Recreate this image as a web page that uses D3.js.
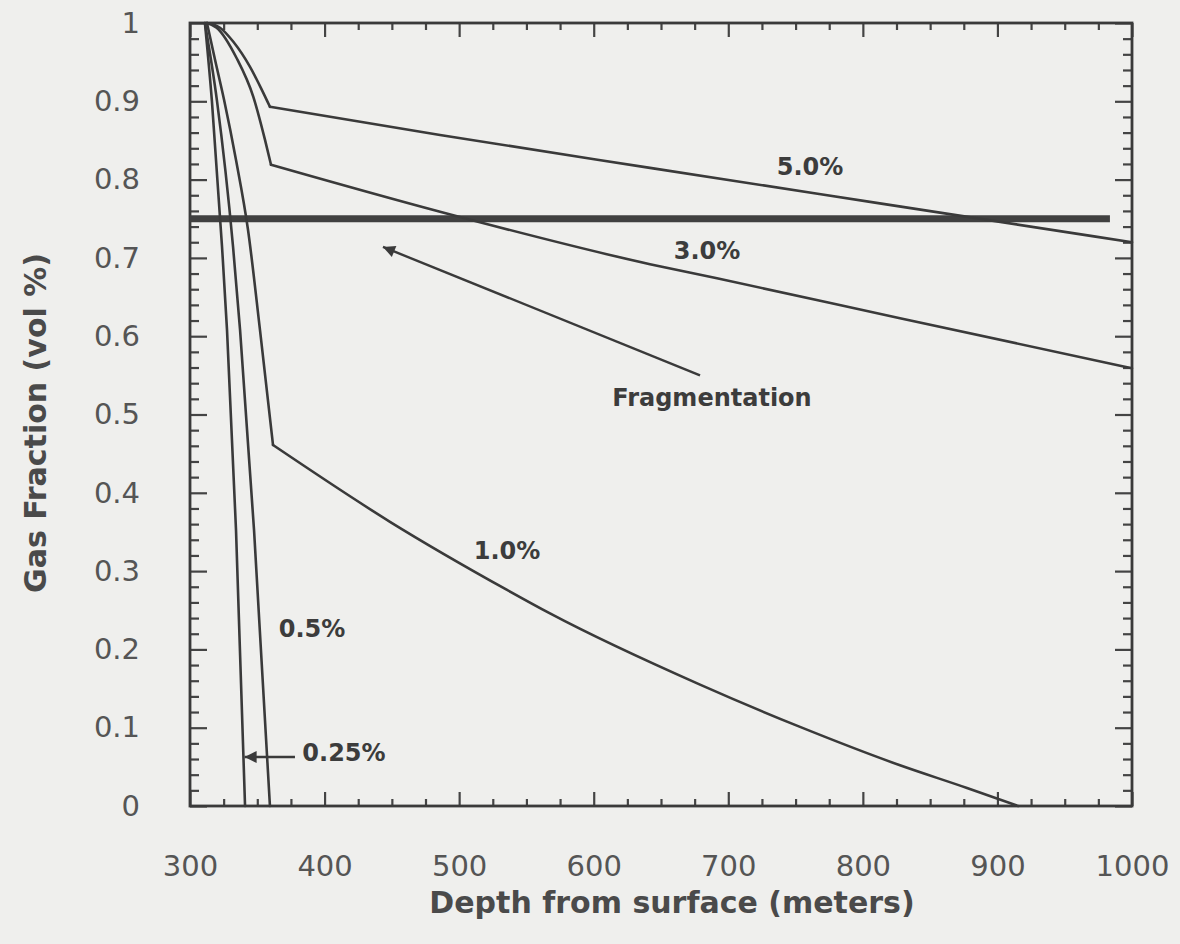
<!DOCTYPE html>
<html>
<head>
<meta charset="utf-8">
<script src="https://cdn.jsdelivr.net/npm/d3@7"></script>
<style>
  html, body { margin: 0; padding: 0; background: #efefed; }
  svg { display: block; }
</style>
</head>
<body>
<svg id="chart" width="1180" height="944"></svg>
<script>
// ---- data ----
const xMajorTicks = [300, 400, 500, 600, 700, 800, 900, 1000];
const xTickLabels = ["300", "400", "500", "600", "700", "800", "900", "1000"];
const yMajorTicks = [0, 0.1, 0.2, 0.3, 0.4, 0.5, 0.6, 0.7, 0.8, 0.9, 1];
const yTickLabels = ["0", "0.1", "0.2", "0.3", "0.4", "0.5", "0.6", "0.7", "0.8", "0.9", "1"];
const xMinorTicks = [325,350,375,425,450,475,525,550,575,625,650,675,725,750,775,825,850,875,925,950,975];
const yMinorTicks = [0.02,0.04,0.06,0.08,0.12,0.14,0.16,0.18,0.22,0.24,0.26,0.28,0.32,0.34,0.36,0.38,
                     0.42,0.44,0.46,0.48,0.52,0.54,0.56,0.58,0.62,0.64,0.66,0.68,0.72,0.74,0.76,0.78,
                     0.82,0.84,0.86,0.88,0.92,0.94,0.96,0.98];

// series: [depth (m), gas fraction]
const s025 = [[311.1,1.0],[316.3,0.900],[323.8,0.714],[327.5,0.608],[334.2,0.352],[340.9,0]];
const s05  = [[311.1,1.0],[320.1,0.900],[332.0,0.714],[337.2,0.608],[347.6,0.352],[359.4,0]];
const s10Upper = [[312.6,1.0],[318.6,0.953],[325.3,0.902],[334.2,0.825],[343.1,0.736],[352.0,0.608],[361.7,0.461]];
const s10Lower = [[361.7,0.461],[448.6,0.363],[535.6,0.276],[567.5,0.246],[679.0,0.155],[753.3,0.101],[827.6,0.052],[877.4,0.023],[915.3,0]];
const s30Upper = [[312.6,1.0],[319.8,0.994],[334.7,0.955],[347.0,0.906],[355.7,0.851],[360.2,0.819]];
const s30Lower = [[360.2,0.819],[485.8,0.759],[641.8,0.692],[691.6,0.674],[827.6,0.623],[1000,0.559]];
const s50Upper = [[312.6,1.0],[322.3,0.994],[332.2,0.976],[344.6,0.944],[353.3,0.915],[359.4,0.893]];
const s50Lower = [[359.4,0.893],[485.8,0.857],[641.8,0.815],[815.0,0.769],[1000,0.720]];

const fragLevel = 0.75;
const fragLineEnd = 983.6;

const seriesLabels = [
  {text: "5.0%", x: 760.7, y: 0.817},
  {text: "3.0%", x: 684.2, y: 0.709},
  {text: "1.0%", x: 535.6, y: 0.327},
  {text: "0.5%", x: 390.7, y: 0.227},
  {text: "0.25%", x: 414.4, y: 0.068},
  {text: "Fragmentation", x: 687.9, y: 0.522}
];
const arrows = [
  {from: [679.0, 0.550], to: [443.4, 0.714]},
  {from: [378.0, 0.0626], to: [340.6, 0.0626]}
];

// ---- layout ----
const svg = d3.select("#chart");
const L = 190, R = 1132, T = 23, B = 806;
const x = d3.scaleLinear().domain([300, 1000]).range([L, R]);
const y = d3.scaleLinear().domain([0, 1]).range([B, T]);

const ink = "#3a3a3a";
const tickInk = "#444";
const labelInk = "#555";

// axes
function styleAxis(g) {
  g.select(".domain").remove();
  g.selectAll(".tick line").attr("stroke", tickInk).attr("stroke-width", 2.2);
  g.selectAll(".tick text").attr("fill", labelInk)
    .style("font-family", "'DejaVu Sans', sans-serif").style("font-size", "29px");
}

svg.append("g").attr("transform", `translate(0,${B})`)
  .call(d3.axisBottom(x).tickValues(xMajorTicks).tickFormat((d,i) => xTickLabels[i]).tickSize(-14).tickPadding(49))
  .call(styleAxis);
svg.append("g").attr("transform", `translate(0,${B})`)
  .call(d3.axisBottom(x).tickValues(xMinorTicks).tickFormat("").tickSize(-7))
  .call(styleAxis);
svg.append("g").attr("transform", `translate(0,${T})`)
  .call(d3.axisTop(x).tickValues(xMajorTicks).tickFormat("").tickSize(-14))
  .call(styleAxis);
svg.append("g").attr("transform", `translate(0,${T})`)
  .call(d3.axisTop(x).tickValues(xMinorTicks).tickFormat("").tickSize(-7))
  .call(styleAxis);

svg.append("g").attr("transform", `translate(${L},0)`)
  .call(d3.axisLeft(y).tickValues(yMajorTicks).tickFormat((d,i) => yTickLabels[i]).tickSize(-17).tickPadding(50))
  .call(styleAxis);
svg.append("g").attr("transform", `translate(${L},0)`)
  .call(d3.axisLeft(y).tickValues(yMinorTicks).tickFormat("").tickSize(-9))
  .call(styleAxis);
svg.append("g").attr("transform", `translate(${R},0)`)
  .call(d3.axisRight(y).tickValues(yMajorTicks).tickFormat("").tickSize(-17))
  .call(styleAxis);
svg.append("g").attr("transform", `translate(${R},0)`)
  .call(d3.axisRight(y).tickValues(yMinorTicks).tickFormat("").tickSize(-9))
  .call(styleAxis);

// frame
svg.append("rect").attr("x", L).attr("y", T).attr("width", R - L).attr("height", B - T)
  .attr("fill", "none").attr("stroke", ink).attr("stroke-width", 2.8);

// fragmentation threshold line
svg.append("line")
  .attr("x1", x(300)).attr("x2", x(fragLineEnd))
  .attr("y1", y(fragLevel)).attr("y2", y(fragLevel))
  .attr("stroke", "#404040").attr("stroke-width", 7);

// curves
const line = d3.line().x(d => x(d[0])).y(d => y(d[1])).curve(d3.curveMonotoneX);
[s025, s05, s10Upper, s10Lower, s30Upper, s30Lower, s50Upper, s50Lower].forEach(s => {
  svg.append("path").datum(s).attr("d", line)
    .attr("fill", "none").attr("stroke", ink).attr("stroke-width", 2.6)
    .attr("stroke-linejoin", "round").attr("stroke-linecap", "round");
});

// arrows
const defs = svg.append("defs");
defs.append("marker").attr("id", "ah").attr("viewBox", "0 0 10 10")
  .attr("refX", 10).attr("refY", 5).attr("markerUnits", "userSpaceOnUse")
  .attr("markerWidth", 26).attr("markerHeight", 12).attr("orient", "auto")
  .append("path").attr("d", "M0,0 L10,5 L0,10 Z").attr("fill", ink);

arrows.forEach(a => {
  svg.append("line")
    .attr("x1", x(a.from[0])).attr("y1", y(a.from[1]))
    .attr("x2", x(a.to[0])).attr("y2", y(a.to[1]))
    .attr("stroke", ink).attr("stroke-width", 2.4)
    .attr("marker-end", "url(#ah)");
});

// labels
svg.selectAll("text.lab").data(seriesLabels).enter().append("text")
  .attr("class", "lab")
  .attr("x", d => x(d.x)).attr("y", d => y(d.y)).attr("dy", "0.36em")
  .attr("text-anchor", "middle")
  .style("font-family", "'DejaVu Sans', sans-serif").style("font-weight", "bold")
  .style("font-size", "24px").attr("fill", "#3c3c3c")
  .text(d => d.text);

// axis titles
svg.append("text")
  .attr("x", (L + R) / 2 + 11).attr("y", 913)
  .attr("text-anchor", "middle")
  .style("font-family", "'DejaVu Sans', sans-serif").style("font-weight", "bold")
  .style("font-size", "30px").attr("fill", "#4a4a4a")
  .text("Depth from surface (meters)");

svg.append("text")
  .attr("transform", `translate(46,423) rotate(-90)`)
  .attr("text-anchor", "middle")
  .style("font-family", "'DejaVu Sans', sans-serif").style("font-weight", "bold")
  .style("font-size", "30px").attr("fill", "#4a4a4a")
  .text("Gas Fraction (vol %)");
</script>
</body>
</html>
